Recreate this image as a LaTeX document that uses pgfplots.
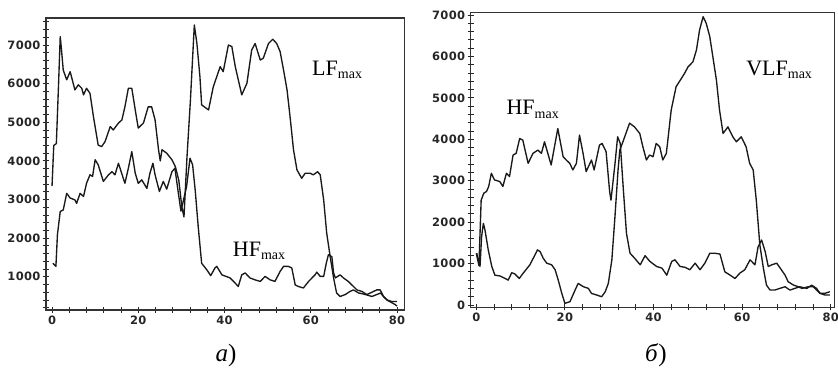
\documentclass[border=0pt]{standalone}
\usepackage{fontspec}
\setmainfont{Liberation Serif}
\newfontfamily\tickfont[LetterSpace=3]{DejaVu Sans Bold}
\usepackage{pgfplots}
\pgfplotsset{compat=1.18}
\usepackage{pgfplotstable}

\pgfplotstableread{
x y
0 3350
0.4 4400
1.0 4450
1.5 5950
1.9 7220
2.2 6870
2.6 6350
3.4 6100
4.2 6310
4.6 6140
5.3 5840
6.1 5970
6.9 5880
7.3 5710
8.0 5880
8.8 5750
9.6 5150
10.7 4410
11.5 4370
12.3 4500
13.5 4890
14.2 4800
15.4 4980
16.2 5060
16.9 5400
17.7 5880
18.5 5880
19.3 5320
20.0 4850
21.2 4980
22.3 5400
23.1 5400
23.9 5060
24.7 4290
25.1 4000
25.5 4290
26.6 4200
27.8 4030
28.6 3850
29.4 3500
30.1 2810
30.6 2550
31.3 4100
32.1 5580
33.0 7520
33.6 7040
34.3 6180
34.7 5450
36.3 5320
37.4 5920
39.0 6440
39.7 6310
40.9 7000
41.7 6960
42.5 6440
44.0 5710
45.2 6010
46.3 6870
47.1 7040
48.3 6610
49.0 6660
50.2 7040
51.2 7150
52.1 7040
52.9 6830
53.7 6350
54.5 5840
55.2 5150
56.0 4290
56.8 3770
57.9 3550
58.7 3680
59.9 3680
60.6 3640
61.6 3720
62.2 3640
63.0 2990
63.7 2130
64.5 1530
65.3 970
66.0 580
66.8 490
68.0 540
69.1 620
69.9 660
71.1 580
72.0 560
73.0 530
74.2 490
75.3 540
76.2 580
77.0 470
77.8 390
78.8 330
79.6 280
80.0 240
}\aLF

\pgfplotstableread{
x y
0.2 1350
0.9 1270
1.25 2090
1.9 2690
2.6 2730
3.4 3160
4.2 3040
5.3 2990
5.7 2900
6.5 3160
7.3 3080
8.0 3420
8.8 3640
9.4 3600
10.0 4030
10.7 3900
11.9 3470
13.1 3640
13.9 3720
14.6 3640
15.4 3940
16.9 3420
17.7 3810
18.5 4240
19.3 3680
20.0 3420
20.8 3510
22.0 3290
22.7 3680
23.4 3940
23.9 3640
24.9 3210
25.8 3470
26.6 3270
27.8 3720
28.5 3810
29.3 3160
29.9 2700
31.2 3330
32.0 4070
32.6 3900
33.2 3250
33.9 2300
34.7 1350
35.9 1180
36.8 1030
37.8 1230
38.2 1270
39.4 1050
41.3 970
42.1 880
43.2 750
44.0 1050
44.8 1100
45.9 970
47.1 920
48.3 880
49.4 1010
50.6 920
51.7 880
52.9 1140
53.7 1270
54.8 1270
55.6 1230
56.4 790
57.1 750
58.3 710
59.5 880
61.0 1050
61.4 1120
62.2 1010
63.0 1010
63.6 1350
64.1 1570
64.9 1520
65.3 1100
65.7 970
66.8 1050
67.6 970
68.7 880
69.9 750
70.7 660
71.9 620
73.0 540
74.2 600
75.3 660
76.1 660
76.9 490
77.7 400
78.8 360
80.0 360
}\aHF

\pgfplotstableread{
x y
0.0 1250
0.6 950
1.1 2530
1.7 2700
2.3 2740
2.8 2860
3.4 3180
4.1 3020
5.3 2980
6.0 2860
6.8 3180
7.5 3100
8.3 3620
9.0 3660
9.8 4020
10.5 3980
11.7 3420
12.8 3660
13.9 3740
14.7 3660
15.4 3940
16.9 3380
18.4 4260
19.6 3580
20.3 3500
21.1 3420
21.8 3260
22.6 3420
23.3 4100
24.1 3660
24.8 3220
26.0 3500
26.6 3260
27.8 3860
28.4 3900
29.3 3700
29.8 3100
30.1 2740
30.4 2530
31.3 3400
31.9 4060
32.5 3900
33.2 2780
33.9 1730
34.7 1250
35.4 1170
37.0 970
38.1 1190
39.2 1050
40.7 930
41.9 890
43.0 720
44.1 1050
44.85 1090
46.0 930
47.1 910
48.2 850
49.4 1010
50.5 850
51.6 1010
52.7 1250
53.8 1250
55.0 1230
56.1 800
57.3 720
58.4 640
59.5 770
60.6 850
61.8 1090
62.9 970
63.6 1400
64.4 1570
65.2 1290
65.9 930
66.7 970
67.8 1010
68.6 890
69.7 720
70.4 560
71.6 480
72.7 440
73.5 400
74.9 440
76.1 440
76.8 360
77.6 280
78.7 280
79.8 320
}\bHF

\pgfplotstableread{
x y
0.1 1250
0.84 930
1.2 1650
1.6 1970
1.96 1810
2.7 1330
3.5 930
4.2 720
5.35 700
6.5 640
7.2 600
8.0 780
8.7 750
9.7 640
10.6 770
12.1 970
13.25 1210
13.8 1330
14.4 1290
15.1 1130
15.9 1010
17.0 970
17.8 850
18.5 600
19.3 280
20.0 40
21.15 80
22.3 360
23.0 520
24.2 440
25.3 400
26.0 280
27.2 240
28.3 200
29.1 320
29.8 520
30.6 1090
31.3 2130
32.0 3260
32.4 3740
33.1 3940
33.9 4180
34.6 4390
35.7 4300
36.9 4140
37.6 3820
38.4 3500
39.1 3620
39.9 3580
40.6 3900
41.4 3820
42.1 3500
42.9 3660
44.0 4710
45.1 5270
46.3 5470
47.0 5590
47.8 5750
48.9 5870
49.7 6160
50.4 6640
51.2 6960
51.9 6800
52.7 6480
53.4 5990
54.2 5430
54.9 4710
55.7 4140
56.8 4300
57.9 4060
58.7 3940
59.8 4060
60.9 3820
61.7 3420
62.5 3260
63.2 2530
64.0 1450
64.8 890
65.5 480
66.3 360
67.4 360
68.5 400
69.7 440
70.8 360
71.9 400
73.0 440
74.6 400
75.7 480
76.8 400
77.6 280
78.7 240
79.8 240
}\bVLF

\pgfplotsset{
  panel/.style={
    scale only axis,
    axis line style={black!80, line width=1.1pt},
    tick align=center,
    xtick pos=left, ytick pos=left,
    major tick length=6pt, minor tick length=6pt,
    every tick/.style={black!85, line width=0.9pt},
    xtick={0,20,40,60,80},
    minor xtick={4,8,...,80},
    ticklabel style={font=\tickfont\fontsize{11.5}{12}\selectfont, text=black!85},
    /pgf/number format/assume math mode=true,
    /pgf/number format/1000 sep={},
    yticklabel style={xshift=1pt},
    xticklabel style={yshift=1pt},
    clip=false,
  },
  curve/.style={black!90, line width=1.35pt, line join=round, no marks},
}

\begin{document}
\begin{tikzpicture}[x=1pt,y=1pt]
\useasboundingbox (0,0) rectangle (838,368);

\begin{axis}[panel, at={(46pt,58pt)}, anchor=south west,
  width=358.3pt, height=292pt,
  xmin=-1.4, xmax=81.7, ymin=140, ymax=7700,
  ytick={1000,2000,...,7000},
  minor ytick={200,400,...,7600}]
\addplot[curve] table[x=x,y=y] {\aLF};
\addplot[curve] table[x=x,y=y] {\aHF};
\node[anchor=base west, inner sep=0pt, font=\fontsize{22}{24}\selectfont] at (axis cs:60.3,6224) {LF\raisebox{-0.16em}{\fontsize{14}{14}\selectfont max}};
\node[anchor=base west, inner sep=0pt, font=\fontsize{22}{24}\selectfont] at (axis cs:41.9,1535) {HF\raisebox{-0.16em}{\fontsize{14}{14}\selectfont max}};
\end{axis}

\begin{axis}[panel, at={(470.7pt,60.7pt)}, anchor=south west,
  width=364pt, height=294.6pt,
  xmin=-1.26, xmax=80.9, ymin=-56, ymax=7056,
  ytick={0,1000,...,7000},
  minor ytick={200,400,...,7000}]
\addplot[curve] table[x=x,y=y] {\bHF};
\addplot[curve] table[x=x,y=y] {\bVLF};
\node[anchor=base west, inner sep=0pt, font=\fontsize{22}{24}\selectfont] at (axis cs:6.8,4587) {HF\raisebox{-0.16em}{\fontsize{14}{14}\selectfont max}};
\node[anchor=base west, inner sep=0pt, font=\fontsize{22}{24}\selectfont] at (axis cs:60.9,5552) {VLF\raisebox{-0.16em}{\fontsize{14}{14}\selectfont max}};
\end{axis}

\node[anchor=base, inner sep=0pt, font=\fontsize{25}{27}\selectfont] at (226,6.3) {\textit{а})};
\node[anchor=base, inner sep=0pt, font=\fontsize{25}{27}\selectfont] at (656,6.3) {\textit{б})};
\end{tikzpicture}
\end{document}
